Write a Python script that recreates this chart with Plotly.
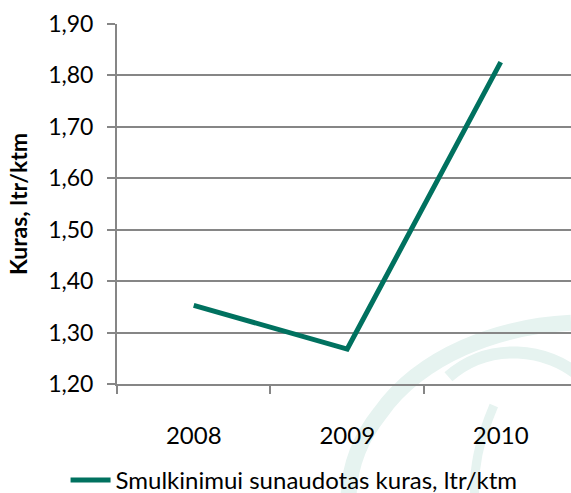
import plotly.graph_objects as go

years = ["2008", "2009", "2010"]
values = [1.353, 1.268, 1.826]
series_name = "Smulkinimui sunaudotas kuras, ltr/ktm"
y_ticks = [1.2, 1.3, 1.4, 1.5, 1.6, 1.7, 1.8, 1.9]
y_labels = ["1,20", "1,30", "1,40", "1,50", "1,60", "1,70", "1,80", "1,90"]

font = "Lato"
fig = go.Figure()
fig.add_trace(go.Scatter(
    x=years, y=values, mode="lines", name=series_name,
    line=dict(color="#00715F", width=5),
))

# faint watermark arcs (background)
wm = "#e6f3f0"
fig.add_shape(type="path", xref="paper", yref="paper", layer="below",
              path="M 1.0,0.17 C 0.84,0.16 0.67,0.08 0.58,-0.08 C 0.53,-0.16 0.51,-0.24 0.51,-0.32",
              line=dict(color=wm, width=16))
fig.add_shape(type="path", xref="paper", yref="paper", layer="below",
              path="M 0.73,0.02 C 0.82,0.12 0.95,0.10 1.02,0.02",
              line=dict(color=wm, width=12))
fig.add_shape(type="path", xref="paper", yref="paper", layer="below",
              path="M 0.83,-0.06 C 0.80,-0.15 0.78,-0.24 0.79,-0.34",
              line=dict(color=wm, width=9))

fig.update_layout(
    width=571, height=493,
    margin=dict(l=117, r=0, t=24, b=109, autoexpand=False),
    paper_bgcolor="white", plot_bgcolor="rgba(0,0,0,0)",
    font=dict(family=font, size=22, color="black"),
    showlegend=True,
    legend=dict(orientation="h", x=0.39, xanchor="center", y=-0.268, yanchor="middle",
                font=dict(size=24), bgcolor="rgba(0,0,0,0)", itemwidth=40),
    xaxis=dict(
        type="category", range=[-0.5, 2.458],
        showline=True, linecolor="#868686", linewidth=2,
        ticks="outside", tickson="boundaries", ticklen=8, tickcolor="#868686", tickwidth=2,
        showgrid=False, ticklabelstandoff=29,
        tickfont=dict(size=24),
    ),
    yaxis=dict(
        range=[1.2, 1.9], tickvals=y_ticks, ticktext=y_labels,
        showline=True, linecolor="#868686", linewidth=2,
        ticks="outside", ticklen=8, tickcolor="#868686", tickwidth=2,
        showgrid=True, gridcolor="#868686", gridwidth=2,
        zeroline=False, ticklabelstandoff=9,
        title=dict(text="<b>Kuras, ltr/ktm</b>", font=dict(size=23), standoff=14),
        tickfont=dict(size=23),
    ),
)

fig.write_html("out.html", config={"displayModeBar": False},
               post_script="document.body.style.margin='0';")
